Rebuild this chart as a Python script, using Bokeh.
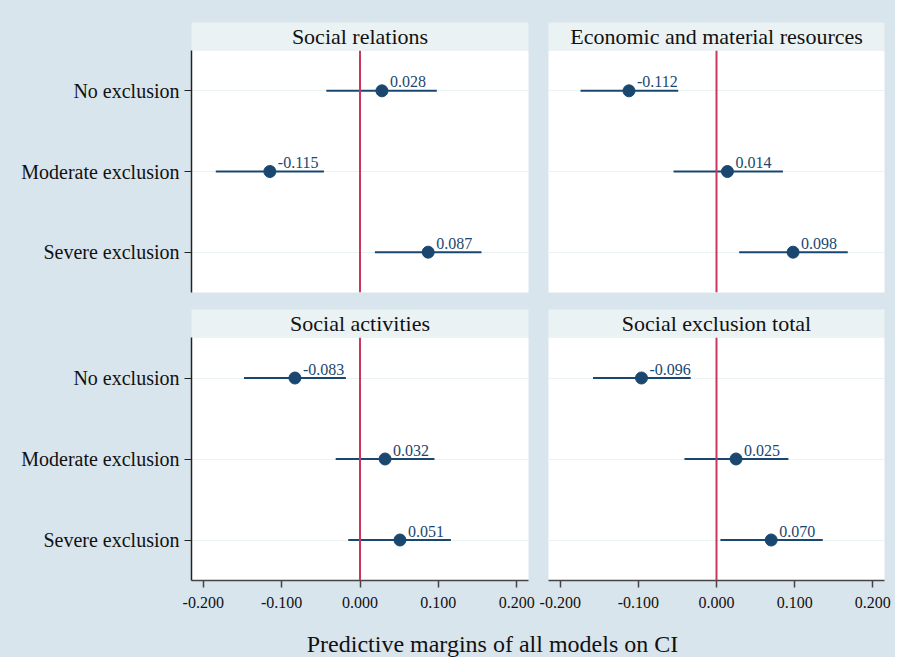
from bokeh.plotting import figure
from bokeh.models import Range1d, FactorRange, FixedTicker, NumeralTickFormatter, Span
from bokeh.layouts import row, column
from bokeh.core.properties import value
from bokeh.embed import file_html
from bokeh.resources import INLINE

# ---------------- data ----------------
categories = ["No exclusion", "Moderate exclusion", "Severe exclusion"]

title_social_relations = "Social relations"
est_social_relations = [0.028, -0.115, 0.087]
lo_social_relations = [-0.043, -0.184, 0.019]
hi_social_relations = [0.098, -0.046, 0.155]

title_economic = "Economic and material resources"
est_economic = [-0.112, 0.014, 0.098]
lo_economic = [-0.174, -0.055, 0.029]
hi_economic = [-0.049, 0.085, 0.168]

title_activities = "Social activities"
est_activities = [-0.083, 0.032, 0.051]
lo_activities = [-0.148, -0.031, -0.015]
hi_activities = [-0.018, 0.095, 0.116]

title_total = "Social exclusion total"
est_total = [-0.096, 0.025, 0.070]
lo_total = [-0.158, -0.041, 0.005]
hi_total = [-0.033, 0.092, 0.136]

x_ticks = [-0.2, -0.1, 0.0, 0.1, 0.2]
x_limits = (-0.215, 0.215)
x_title = "Predictive margins of all models on CI"

# ---------------- style ----------------
BG = "#d9e5ec"
HEADER = "#eaf2f3"
NAVY = "#1a476f"
RED = "#c8385e"
FONT = "Liberation Serif"
TEXT = "#111111"


def header(title, width, left, right, top):
    h = figure(width=width, height=28 + top, x_range=Range1d(0, 1), y_range=Range1d(0, 1),
               toolbar_location=None, output_backend="svg",
               x_axis_location=None, y_axis_location=None,
               min_border_left=left, min_border_right=right,
               min_border_top=top, min_border_bottom=0,
               background_fill_color=HEADER, border_fill_color=BG)
    h.outline_line_color = None
    h.xgrid.visible = False
    h.ygrid.visible = False
    h.text(x=[0.5], y=[0.5], text=[title], text_align="center", text_baseline="middle",
           text_font=value(FONT), text_font_size="22px", text_color=TEXT)
    return h


def panel(est, lo, hi, width, height, left, right, bottom, show_y, show_x):
    p = figure(width=width, height=height,
               x_range=Range1d(*x_limits), y_range=FactorRange(factors=categories[::-1]),
               toolbar_location=None, output_backend="svg",
               x_axis_location="below" if show_x else None,
               y_axis_location="left" if show_y else None,
               min_border_left=left, min_border_right=right,
               min_border_top=0, min_border_bottom=bottom,
               background_fill_color="white", border_fill_color=BG)
    p.outline_line_color = None
    p.xgrid.visible = False
    p.ygrid.grid_line_color = HEADER
    p.ygrid.grid_line_width = 1.2
    if show_y:
        ax = p.yaxis[0]
        ax.axis_line_color = "#222222"
        ax.axis_line_width = 1.5
        ax.major_tick_line_color = "#222222"
        ax.major_tick_line_width = 1.2
        ax.major_tick_out = 7
        ax.major_tick_in = 0
        ax.major_label_standoff = 5
        ax.major_label_text_font = FONT
        ax.major_label_text_font_size = "20px"
        ax.major_label_text_color = TEXT
    if show_x:
        ax = p.xaxis[0]
        ax.ticker = FixedTicker(ticks=x_ticks)
        ax.formatter = NumeralTickFormatter(format="0.000")
        ax.minor_tick_line_color = None
        ax.axis_line_color = "#444444"
        ax.axis_line_width = 1.5
        ax.major_tick_line_color = "#444444"
        ax.major_tick_line_width = 1.5
        ax.major_tick_out = 7
        ax.major_tick_in = 0
        ax.major_label_standoff = 9
        ax.major_label_text_font = FONT
        ax.major_label_text_font_size = "16px"
        ax.major_label_text_color = TEXT
    p.add_layout(Span(location=0, dimension="height", line_color=RED, line_width=2))
    p.segment(x0=lo, y0=categories, x1=hi, y1=categories, line_color=NAVY, line_width=2)
    p.scatter(x=est, y=categories, size=12, fill_color=NAVY, line_color=NAVY)
    p.text(x=est, y=categories, text=["%.3f" % v for v in est], x_offset=8, y_offset=-9,
           text_align="left", text_baseline="middle",
           text_font=value(FONT), text_font_size="16px", text_color=NAVY)
    return p


LW, RW = 538, 357
LB, RB = 191, 10
h1 = header(title_social_relations, LW, LB, 10, 22)
p1 = panel(est_social_relations, lo_social_relations, hi_social_relations, LW, 259, LB, 10, 17, True, False)
h3 = header(title_activities, LW, LB, 10, 0)
p3 = panel(est_activities, lo_activities, hi_activities, LW, 283, LB, 10, 40, True, True)

h2 = header(title_economic, RW, RB, 11, 22)
p2 = panel(est_economic, lo_economic, hi_economic, RW, 259, RB, 11, 17, False, False)
h4 = header(title_total, RW, RB, 11, 0)
p4 = panel(est_total, lo_total, hi_total, RW, 283, RB, 11, 40, False, True)

footer = figure(width=LW + RW, height=37, x_range=Range1d(0, 1), y_range=Range1d(0, 1),
                toolbar_location=None, output_backend="svg",
                x_axis_location=None, y_axis_location=None,
                min_border_left=100, min_border_right=11, min_border_top=9, min_border_bottom=0,
                background_fill_color=BG, border_fill_color=BG)
footer.outline_line_color = None
footer.xgrid.visible = False
footer.ygrid.visible = False
footer.text(x=[0.5], y=[0.5], text=[x_title], text_align="center", text_baseline="middle",
            text_font=value(FONT), text_font_size="24px", text_color=TEXT)

bgstyle = {"background-color": BG}
left_col = column(h1, p1, h3, p3, styles=bgstyle)
right_col = column(h2, p2, h4, p4, styles=bgstyle)
p = column(row(left_col, right_col, styles=bgstyle), footer, styles=bgstyle)

open("out.html", "w").write(file_html(p, INLINE))
